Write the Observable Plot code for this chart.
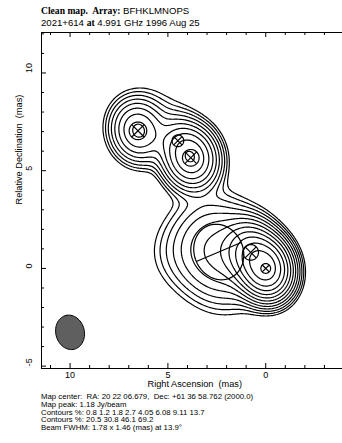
<!DOCTYPE html>
<html><head><meta charset="utf-8">
<script src="https://cdn.jsdelivr.net/npm/d3@7"></script>
<script src="https://cdn.jsdelivr.net/npm/@observablehq/plot@0.6"></script>
<style>
body{margin:0;background:#fff;width:342px;height:443px;position:relative;overflow:hidden;font-family:"Liberation Sans",Arial,sans-serif;color:#000}
.t{position:absolute;left:41px;white-space:pre;line-height:1}
.s{font-family:"Liberation Serif","Times New Roman",serif;font-weight:bold}
#chart{position:absolute;left:0;top:0}
</style></head><body>
<div id="chart"></div>
<div class="t" style="top:6px;font-size:9.6px"><span class="s">Clean map.  Array:</span> BFHKLMNOPS</div>
<div class="t" style="top:18px;font-size:9.6px">2021+614 <span class="s">at</span> 4.991 GHz 1996 Aug 25</div>
<div class="t" id="cap" style="top:393px;font-size:7.8px;line-height:7.8px"></div>
<script>
// ---- data ----
const mapPeak = 1.18;                 // Jy/beam
const contourPct1 = [0.8, 1.2, 1.8, 2.7, 4.05, 6.08, 9.11, 13.7];
const contourPct2 = [20.5, 30.8, 46.1, 69.2];
const beamMaj = 1.78, beamMin = 1.46, beamPA = 13.9;  // mas, mas, deg
const beamX = 10.0, beamY = -3.27;                   // beam drawn in corner
// model components (RA offset, Dec offset in mas) - drawn on the map
const compRA   = [0.00, 0.77, 2.40, 3.83, 4.49, 6.53];
const compDec  = [0.00, 0.82, 0.84, 5.66, 6.53, 7.04];
const compFlux = [1.00, 0.45, 0.42, 0.42, 0.06, 0.20];
const compMaj  = [0.50, 0.80, 2.90, 0.85, 0.60, 0.90];
const compRatio= [1, 1, 0.86, 1, 1, 1];
const compPA   = [0, 0, 23, 0, 0, 0];
const compCross= [true, true, false, true, true, true];
// faint extended emission seen in the outer contours (not drawn as components)
const envRA   = [4.5, 5.6];
const envDec  = [0.7, 7.6];
const envFlux = [0.025, 0.035];
const envSize = [2.0, 2.4];
// axes
const xMajor = [0, 5, 10], xMajorLabels = ["0", "5", "10"];
const xMinor = [-3, -2, -1, 1, 2, 3, 4, 6, 7, 8, 9, 11];
const yMajor = [-5, 0, 5, 10], yMajorLabels = ["-5", "0", "5", "10"];
const yMinor = [-4, -3, -2, -1, 1, 2, 3, 4, 6, 7, 8, 9, 11, 12];
const captionLines = [
  "Map center:  RA: 20 22 06.679,  Dec: +61 36 58.762 (2000.0)",
  "Map peak: 1.18 Jy/beam",
  "Contours %: " + contourPct1.join(" "),
  "Contours %: " + contourPct2.join(" "),
  "Beam FWHM: 1.78 x 1.46 (mas) at 13.9\u00b0"
];

document.getElementById("cap").textContent = captionLines.join("\n");

// ---- model field (components convolved with the clean beam) ----
const F = 2 * Math.sqrt(2 * Math.LN2);
function cov(maj, min, pa) {
  const a = maj / F, b = min / F, t = pa * Math.PI / 180;
  const ux = Math.sin(t), uy = Math.cos(t), vx = Math.cos(t), vy = -Math.sin(t);
  return [a*a*ux*ux + b*b*vx*vx, a*a*ux*uy + b*b*vx*vy, a*a*uy*uy + b*b*vy*vy];
}
const Sb = cov(beamMaj, beamMin, beamPA);
const detB = Sb[0]*Sb[2] - Sb[1]*Sb[1];
function gauss(ra, dec, flux, maj, min, pa) {
  const Sc = cov(maj, min, pa);
  const s0 = Sb[0]+Sc[0], s1 = Sb[1]+Sc[1], s2 = Sb[2]+Sc[2];
  const det = s0*s2 - s1*s1;
  return {ra, dec, amp: flux*Math.sqrt(detB/det), i0: s2/det, i1: -s1/det, i2: s0/det};
}
const comps = compRA.map((ra, i) => gauss(ra, compDec[i], compFlux[i], compMaj[i], compMaj[i]*compRatio[i], compPA[i]))
  .concat(envRA.map((ra, i) => gauss(ra, envDec[i], envFlux[i], envSize[i], envSize[i], 0)));
function field(x, y) {
  let v = 0;
  for (const c of comps) {
    const dx = x - c.ra, dy = y - c.dec;
    v += c.amp * Math.exp(-0.5 * (c.i0*dx*dx + 2*c.i1*dx*dy + c.i2*dy*dy));
  }
  return v;
}
let fmax = 0;
for (let x = -1; x <= 8; x += 0.02) for (let y = -1; y <= 8; y += 0.02) fmax = Math.max(fmax, field(x, y));
const scaled = (x, y) => field(x, y) / fmax * mapPeak;
const thresholds = contourPct1.concat(contourPct2).map(p => p / 100 * mapPeak);

// ---- shapes ----
function ellipsePts(cx, cy, maj, min, pa, id) {
  const t = pa * Math.PI / 180, pts = [];
  for (let k = 0; k <= 72; k++) {
    const a = k / 72 * 2 * Math.PI;
    const u = Math.cos(a) * maj / 2, v = Math.sin(a) * min / 2;
    pts.push({id, x: cx + u*Math.sin(t) + v*Math.cos(t), y: cy + u*Math.cos(t) - v*Math.sin(t)});
  }
  return pts;
}
const beamPts = ellipsePts(beamX, beamY, beamMaj, beamMin, beamPA, "beam");
const compPts = compRA.flatMap((ra, i) => ellipsePts(ra, compDec[i], compMaj[i], compMaj[i]*compRatio[i], compPA[i], "c" + i));
const crossSegs = [];
compRA.forEach((ra, i) => {
  const r = compMaj[i] / 2;
  if (compCross[i]) {
    const d = r / Math.SQRT2;
    crossSegs.push({x1: ra - d, y1: compDec[i] - d, x2: ra + d, y2: compDec[i] + d});
    crossSegs.push({x1: ra - d, y1: compDec[i] + d, x2: ra + d, y2: compDec[i] - d});
  } else {
    const t = (compPA[i] + 90) * Math.PI / 180, rm = r * compRatio[i];
    crossSegs.push({x1: ra - rm*Math.sin(t), y1: compDec[i] - rm*Math.cos(t), x2: ra + rm*Math.sin(t), y2: compDec[i] + rm*Math.cos(t)});
  }
});

const frameH = 443 - 32 - 75, frameW = 342 + 1.5 - 41;
const chart = Plot.plot({
  width: 342, height: 443,
  marginLeft: 41, marginRight: -1.5, marginTop: 32, marginBottom: 75,
  x: {domain: [11.46, -4.0], axis: null},
  y: {domain: [-5.12, 12.07], axis: null},
  style: {fontFamily: "Liberation Sans, Arial, sans-serif", fontSize: "8.5px", color: "black", background: "white"},
  marks: [
    Plot.contour({x1: -4.2, x2: 11.7, y1: -5.3, y2: 12.3, width: 318, height: 352, value: scaled, thresholds, stroke: "black", strokeWidth: 1.2, fill: "none", clip: true}),
    Plot.line(beamPts, {x: "x", y: "y", z: "id", fill: "#5f5f5f", stroke: "black", strokeWidth: 1}),
    Plot.line(compPts, {x: "x", y: "y", z: "id", stroke: "black", strokeWidth: 1.2}),
    Plot.link(crossSegs, {x1: "x1", y1: "y1", x2: "x2", y2: "y2", stroke: "black", strokeWidth: 1.2}),
    Plot.frame({stroke: "black", strokeWidth: 1}),
    Plot.tickX(xMajor, {x: d => d, insetTop: frameH - 5}),
    Plot.tickX(xMinor, {x: d => d, insetTop: frameH - 3}),
    Plot.tickX(xMajor, {x: d => d, insetBottom: frameH - 5}),
    Plot.tickX(xMinor, {x: d => d, insetBottom: frameH - 3}),
    Plot.tickY(yMajor, {y: d => d, insetRight: frameW - 5}),
    Plot.tickY(yMinor, {y: d => d, insetRight: frameW - 3}),
    Plot.text(xMajor, {x: d => d, text: (d, i) => xMajorLabels[i], frameAnchor: "bottom", dy: 9, fontSize: 9}),
    Plot.text(yMajor, {y: d => d, text: (d, i) => yMajorLabels[i], frameAnchor: "left", dx: -12, rotate: -90, fontSize: 9}),
    Plot.text(["Right Ascension  (mas)"], {frameAnchor: "bottom", dy: 18, dx: 2, fontSize: 9.2}),
    Plot.text(["Relative Declination  (mas)"], {frameAnchor: "left", dx: -22, dy: 4, rotate: -90, fontSize: 9.2})
  ]
});
document.getElementById("chart").appendChild(chart);
</script>
</body></html>
